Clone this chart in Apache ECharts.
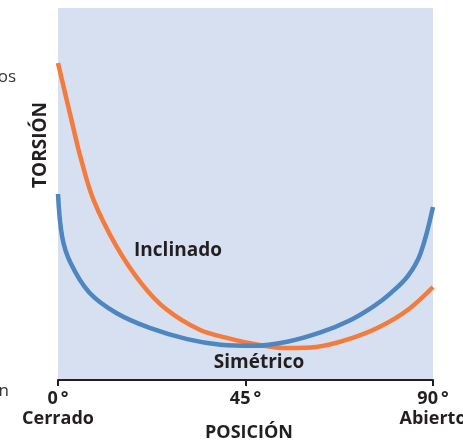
<!DOCTYPE html>
<html>
<head>
<meta charset="utf-8">
<script src="https://cdn.jsdelivr.net/npm/echarts@6/dist/echarts.min.js"></script>
<style>
  html, body { margin: 0; padding: 0; background: #fff; }
  #chart { width: 463px; height: 445px; }
</style>
</head>
<body>
<div id="chart"></div>
<script>
// posición (grados) y torsión (escala relativa 0-100)
const inclinadoX = [0, 3, 5.5, 8.5, 14, 20, 26, 34, 41, 48, 55, 62, 69, 77, 84, 90];
const inclinadoY = [85.2, 71, 59.5, 48.5, 36, 26, 19, 13.5, 11.2, 9.5, 8.6, 8.9, 10.7, 14.2, 18.9, 25.0];
const simetricoX = [0, 1, 3, 7.5, 14, 22, 31, 39, 47, 55, 63, 70, 76, 80, 84, 87, 90];
const simetricoY = [50.0, 38.5, 31.5, 23.5, 18.0, 14.0, 11.0, 9.5, 9.2, 10.3, 12.8, 16.0, 20.0, 23.5, 28.0, 34.0, 46.5];
const tickLabels = { 0: '0\u2009°', 45: '45\u2009°', 90: '90\u2009°' };
const tickSub = { 0: 'Cerrado', 45: '', 90: 'Abierto' };

const font = '"Open Sans", "Noto Sans", sans-serif';
const txt = '#231f20';

function pairs(xs, ys) {
  return xs.map((x, i) => [x, ys[i]]);
}

const option = {
  animation: false,
  grid: {
    left: 58, right: 30, top: 8, bottom: 65,
    outerBoundsMode: 'none',
    show: true, backgroundColor: '#d6e0f0', borderWidth: 0
  },
  xAxis: {
    type: 'value', min: 0, max: 90, interval: 45,
    axisLine: { lineStyle: { color: '#231f20', width: 2 } },
    axisTick: { length: 6, lineStyle: { color: '#231f20', width: 2 } },
    splitLine: { show: false },
    axisLabel: {
      margin: 9,
      formatter: v => tickSub[v] ? '{a|' + tickLabels[v] + '}\n{b|' + tickSub[v] + '}' : '{a|' + tickLabels[v] + '}',
      rich: {
        a: { fontFamily: font, fontWeight: 'bold', fontSize: 18, color: txt, lineHeight: 20 },
        b: { fontFamily: font, fontWeight: 'bold', fontSize: 18, color: txt, lineHeight: 20 }
      }
    }
  },
  yAxis: {
    type: 'value', min: 0, max: 100,
    show: false, splitLine: { show: false }
  },
  graphic: [
    { type: 'text', x: 249, y: 433,
      style: { text: 'POSICIÓN', font: 'bold 18px ' + font, fill: txt, align: 'center', verticalAlign: 'middle' } },
    { type: 'text', x: 41, y: 145, rotation: Math.PI / 2,
      style: { text: 'TORSIÓN', font: 'bold 19px ' + font, fill: txt, align: 'center', verticalAlign: 'middle' } },
    { type: 'text', x: 178, y: 251,
      style: { text: 'Inclinado', font: 'bold 19px ' + font, fill: txt, align: 'center', verticalAlign: 'middle' } },
    { type: 'text', x: 259, y: 363,
      style: { text: 'Simétrico', font: 'bold 19px ' + font, fill: txt, align: 'center', verticalAlign: 'middle' } },
    { type: 'text', x: 16, y: 77,
      style: { text: 'os', font: '17px ' + font, fill: '#333', align: 'right', verticalAlign: 'middle' } },
    { type: 'text', x: 9, y: 391,
      style: { text: 'n', font: '17px ' + font, fill: '#333', align: 'right', verticalAlign: 'middle' } }
  ],
  series: [
    {
      name: 'Inclinado', type: 'line', data: pairs(inclinadoX, inclinadoY),
      smooth: 0.35, showSymbol: false, clip: true,
      lineStyle: { color: '#f47b3b', width: 4.5 }, z: 2
    },
    {
      name: 'Simétrico', type: 'line', data: pairs(simetricoX, simetricoY),
      smooth: 0.35, showSymbol: false, clip: true,
      lineStyle: { color: '#4d86c1', width: 4.5 }, z: 3
    }
  ]
};

const myChart = echarts.init(document.getElementById('chart'));
myChart.setOption(option);
</script>
</body>
</html>
